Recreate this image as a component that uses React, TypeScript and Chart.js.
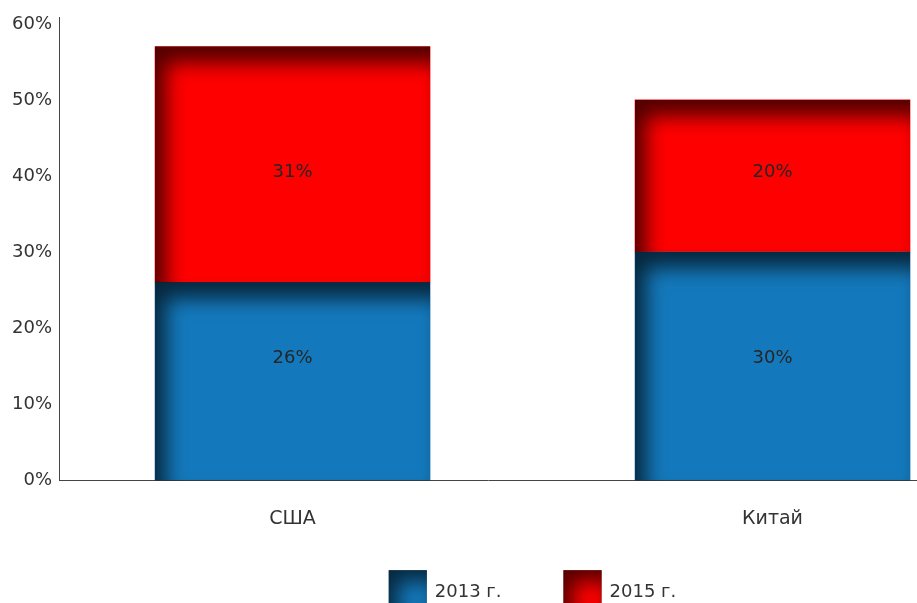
import React, { useEffect, useRef } from 'react';
import { Chart, registerables } from 'chart.js';

Chart.register(...registerables);

// ---- data ----
const categories = ['США', 'Китай'];
const seriesNames = ['2013 г.', '2015 г.'];
const values2013 = [26, 30];
const values2015 = [31, 20];
const yTicks = [0, 10, 20, 30, 40, 50, 60];

// ---- styles ----
const BLUE = '#1479bc';
const RED = '#ff0000';
const FONT = '"DejaVu Sans", sans-serif';
const TEXT = '#333333';

function innerShade(ctx: CanvasRenderingContext2D, left: number, top: number, w: number, h: number, blur = 20, ox = 11, oy = 16) {
  if (w <= 0 || h <= 0) return;
  ctx.save();
  ctx.beginPath();
  ctx.rect(left, top, w, h);
  ctx.clip();
  ctx.beginPath();
  ctx.rect(left - 300, top - 300, w + 600, h + 600);
  ctx.rect(left, top, w, h);
  ctx.shadowColor = 'rgba(0,0,0,0.68)';
  ctx.shadowBlur = blur;
  ctx.shadowOffsetX = ox;
  ctx.shadowOffsetY = oy;
  ctx.fillStyle = '#000';
  ctx.fill('evenodd');
  ctx.restore();
}

const shadePlugin = {
  id: 'shadeAndLabels',
  afterDatasetsDraw(chart: any) {
    const ctx: CanvasRenderingContext2D = chart.ctx;
    const yScale = chart.scales.y;
    chart.data.datasets.forEach((ds: any, di: number) => {
      const meta = chart.getDatasetMeta(di);
      meta.data.forEach((el: any) => {
        const p = el.getProps(['x', 'y', 'base', 'width'], true);
        const left = p.x - p.width / 2;
        const top = Math.min(p.y, p.base);
        const h = Math.abs(p.base - p.y);
        innerShade(ctx, left, top, p.width, h);
      });
    });
    ctx.save();
    ctx.font = `18px ${FONT}`;
    ctx.fillStyle = '#262626';
    ctx.textAlign = 'center';
    ctx.textBaseline = 'middle';
    chart.data.datasets.forEach((ds: any, di: number) => {
      const meta = chart.getDatasetMeta(di);
      const ly = yScale.getPixelForValue(ds.labelAt);
      meta.data.forEach((el: any, i: number) => {
        ctx.fillText(ds.data[i].y + '%', el.x, ly);
      });
    });
    ctx.restore();
  },
  afterDraw(chart: any) {
    const ctx: CanvasRenderingContext2D = chart.ctx;
    const xScale = chart.scales.x;
    const cx = xScale.getPixelForValue((categories.length - 1) / 2);
    const box = 38;
    const gap = 8;
    const spacing = 62;
    ctx.save();
    ctx.font = `18px ${FONT}`;
    const widths = chart.data.datasets.map((ds: any) => box + gap + ctx.measureText(ds.label).width);
    const total = widths.reduce((a: number, b: number) => a + b, 0) + spacing * (widths.length - 1);
    let x = cx - total / 2;
    const top = chart.chartArea.bottom + 90;
    chart.data.datasets.forEach((ds: any, i: number) => {
      ctx.fillStyle = ds.backgroundColor;
      ctx.fillRect(x, top, box, box);
      innerShade(ctx, x, top, box, box, 20, 9, 11);
      ctx.fillStyle = TEXT;
      ctx.textAlign = 'left';
      ctx.textBaseline = 'middle';
      ctx.fillText(ds.label, x + box + gap, top + 22);
      x += widths[i] + spacing;
    });
    ctx.restore();
  },
};

export default function App() {
  const ref = useRef<HTMLCanvasElement | null>(null);

  useEffect(() => {
    if (!ref.current) return;
    const chart = new Chart(ref.current, {
      type: 'bar',
      data: {
        datasets: [
          {
            label: seriesNames[0],
            data: categories.map((_, i) => ({ x: i, y: values2013[i] })),
            backgroundColor: BLUE,
            labelAt: 16,
          } as any,
          {
            label: seriesNames[1],
            data: categories.map((_, i) => ({ x: i, y: values2015[i] })),
            backgroundColor: RED,
            labelAt: 40.5,
          } as any,
        ],
      },
      options: {
        responsive: false,
        animation: false,
        layout: { padding: { top: 16, left: 5, right: 0, bottom: 46 } },
        datasets: { bar: { barThickness: 275, borderWidth: 0 } as any },
        plugins: { legend: { display: false }, tooltip: { enabled: false } },
        scales: {
          x: {
            type: 'linear',
            stacked: true,
            offset: false,
            min: -0.4865,
            max: 1.301,
            grid: { display: false, drawTicks: false },
            border: { display: true, color: '#444444', width: 1 },
            afterBuildTicks: (s: any) => {
              s.ticks = categories.map((_, i) => ({ value: i }));
            },
            ticks: {
              autoSkip: false,
              maxRotation: 0,
              padding: 27,
              color: TEXT,
              font: { family: FONT, size: 19 },
              callback: (_v: any, i: number) => categories[i],
            },
          } as any,
          y: {
            stacked: true,
            min: 0,
            max: 60.8,
            grid: { display: false, drawTicks: false },
            border: { display: true, color: '#444444', width: 1 },
            afterBuildTicks: (s: any) => {
              s.ticks = yTicks.map((v) => ({ value: v }));
            },
            ticks: {
              padding: 7,
              color: TEXT,
              font: { family: FONT, size: 18 },
              callback: (v: any) => v + '%',
            },
          } as any,
        },
      },
      plugins: [shadePlugin],
    });
    return () => chart.destroy();
  }, []);

  return (
    <div style={{ position: 'fixed', left: 0, top: 0, width: 917, height: 603, overflow: 'hidden', background: '#fff' }}>
      <canvas ref={ref} width={917} height={603} style={{ display: 'block' }} />
    </div>
  );
}
